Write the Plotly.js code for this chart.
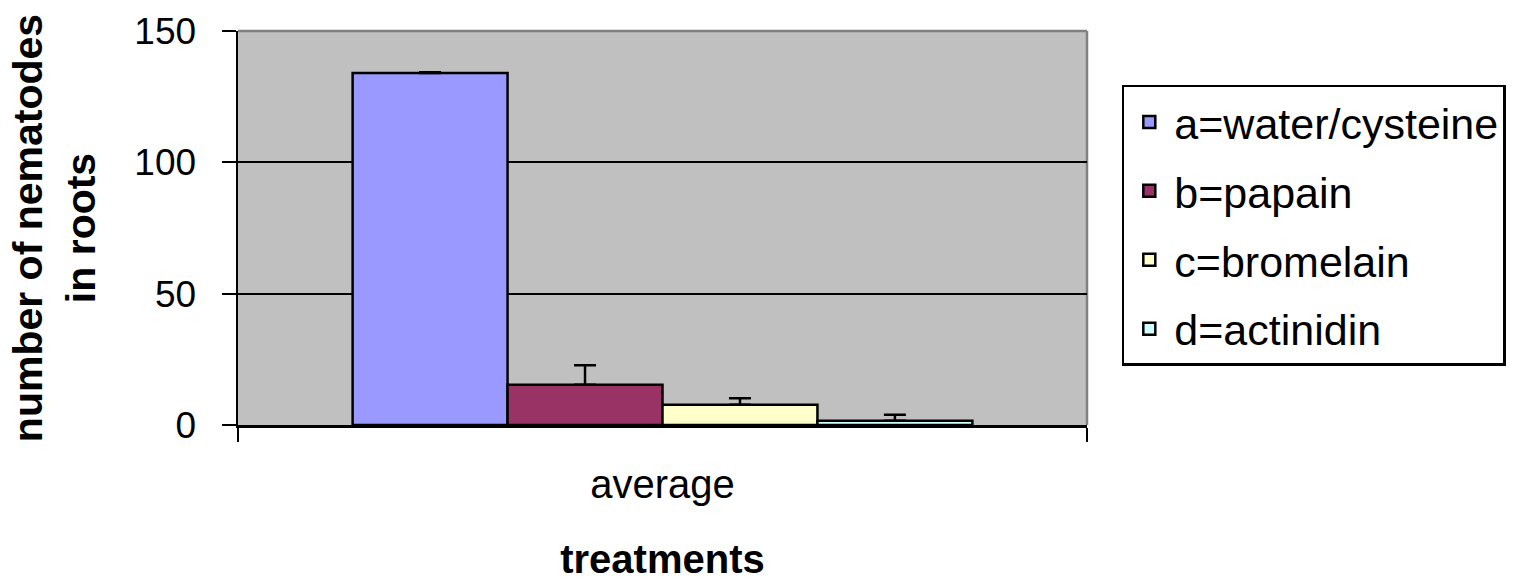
<!DOCTYPE html>
<html>
<head>
<meta charset="utf-8">
<script src="https://cdn.plot.ly/plotly-3.0.1.min.js"></script>
<style>html,body{margin:0;padding:0;background:#fff;}#chart{width:1515px;height:581px;}</style>
</head>
<body>
<div id="chart"></div>
<script>
const categories = ["average"];
const seriesNames = ["a=water/cysteine", "b=papain", "c=bromelain", "d=actinidin"];
const seriesValues = [[134], [15.3], [7.7], [1.6]];
const seriesErrors = [[0.3], [7.4], [2.5], [2.3]];
const seriesColors = ["#9999FF", "#993366", "#FFFFCC", "#CCFFFF"];
const yTickVals = [0, 50, 100, 150];

const FONT = "Liberation Sans, Arial, sans-serif";

const traces = seriesNames.map((name, i) => ({
  type: "bar",
  name: name,
  x: categories,
  y: seriesValues[i],
  legendgroup: "g" + i,
  marker: { color: seriesColors[i], line: { color: "#000", width: 2.5 } },
  error_y: {
    type: "data", symmetric: false,
    array: seriesErrors[i], arrayminus: seriesErrors[i].map(() => 0),
    color: "#000", thickness: 2.5, width: 11
  },
  hoverinfo: "skip"
}));

const layout = {
  width: 1515, height: 581,
  margin: { l: 238, r: 428, t: 31, b: 156, autoexpand: false },
  paper_bgcolor: "#fff",
  plot_bgcolor: "#C0C0C0",
  barmode: "group",
  bargap: 0.27,
  bargroupgap: 0,
  font: { family: FONT, color: "#000" },
  showlegend: true,
  legend: {
    x: 1.041, xanchor: "left", y: 0.863, yanchor: "top",
    bgcolor: "#fff", bordercolor: "#000", borderwidth: 2.5,
    font: { family: FONT, size: 43, color: "#000" },
    traceorder: "grouped", tracegroupgap: 10,
    itemwidth: 40
  },
  xaxis: {
    type: "category",
    range: [-0.5, 0.5],
    tickson: "boundaries",
    ticks: "outside", ticklen: 14, tickwidth: 2, tickcolor: "#000",
    showline: true, linecolor: "#000", linewidth: 2.5,
    showgrid: false, zeroline: false,
    tickfont: { family: FONT, size: 40, color: "#000" },
    ticklabelstandoff: 22,
    automargin: false,
    title: { text: "treatments", font: { family: FONT, size: 40, color: "#000", weight: "bold" }, standoff: 42 }
  },
  yaxis: {
    range: [0, 150],
    tickvals: yTickVals,
    ticktext: yTickVals.map(String),
    ticks: "outside", ticklen: 14, tickwidth: 2, tickcolor: "#000",
    showline: true, linecolor: "#000", linewidth: 2.5,
    showgrid: true, gridcolor: "#000", gridwidth: 2,
    zeroline: false,
    tickfont: { family: FONT, size: 37, color: "#000" },
    ticklabelstandoff: 18,
    automargin: false,
    title: { text: "number of nematodes<br>in roots", font: { family: FONT, size: 41, color: "#000", weight: "bold" }, standoff: 26 }
  },
  shapes: [
    { type: "line", xref: "paper", yref: "paper", x0: 0, x1: 1, y0: 1, y1: 1, line: { color: "#808080", width: 2.5 }, layer: "above" },
    { type: "line", xref: "paper", yref: "paper", x0: 1, x1: 1, y0: 0, y1: 1, line: { color: "#808080", width: 2.5 }, layer: "below" }
  ]
};

Plotly.newPlot("chart", traces, layout, { staticPlot: true, displayModeBar: false });
</script>
</body>
</html>
